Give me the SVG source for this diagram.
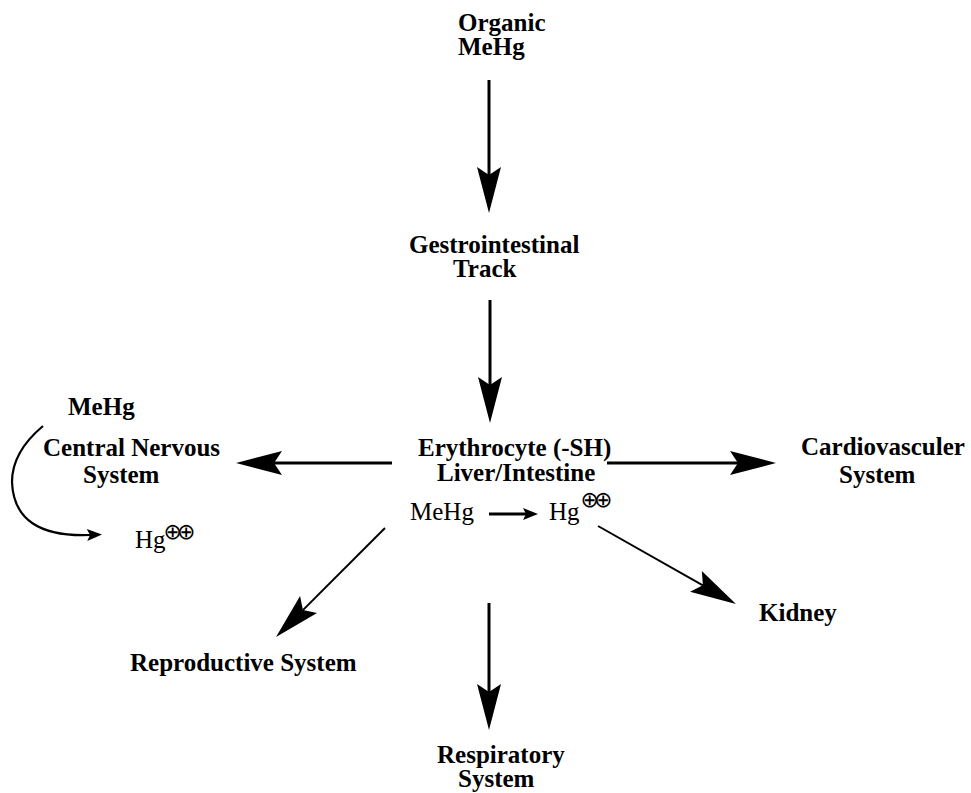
<svg xmlns="http://www.w3.org/2000/svg" width="971" height="793" viewBox="0 0 971 793">
<style>
text{font-family:"Liberation Serif","Times New Roman",serif;font-size:25px;fill:#000}
.b{font-weight:bold}
.sym{font-family:"DejaVu Sans",sans-serif;font-size:22px;letter-spacing:-5px}
.c{fill:none;stroke:#000}
</style>
<defs>
<marker id="big" markerUnits="userSpaceOnUse" markerWidth="50" markerHeight="30" viewBox="-1 -13 50 26" refX="8" refY="0" orient="auto">
<path d="M0,-12 L46,0 L0,12 L8,0 Z" fill="#000"/>
</marker>
<marker id="small" markerUnits="userSpaceOnUse" markerWidth="20" markerHeight="14" viewBox="-1 -7 20 14" refX="3" refY="0" orient="auto">
<path d="M0,-6 L15,0 L0,6 L3,0 Z" fill="#000"/>
</marker>
<marker id="curl" markerUnits="userSpaceOnUse" markerWidth="20" markerHeight="14" viewBox="-1 -7 20 14" refX="3" refY="0" orient="auto">
<path d="M0,-6 L15,0 L0,6 L3,0 Z" fill="#000"/>
</marker>
</defs>
<g id="connectors">
<line class="c" x1="489" y1="80" x2="489" y2="175" stroke-width="3" marker-end="url(#big)"/>
<line class="c" x1="490" y1="300" x2="490" y2="385" stroke-width="3" marker-end="url(#big)"/>
<line class="c" x1="392" y1="463" x2="274" y2="463" stroke-width="3" marker-end="url(#big)"/>
<line class="c" x1="607" y1="463" x2="738" y2="463" stroke-width="3" marker-end="url(#big)"/>
<line class="c" x1="385" y1="528" x2="302.9" y2="610.1" stroke-width="2" marker-end="url(#big)"/>
<line class="c" x1="598" y1="526" x2="702.9" y2="585.3" stroke-width="2" marker-end="url(#big)"/>
<line class="c" x1="489" y1="603" x2="489" y2="692" stroke-width="3" marker-end="url(#big)"/>
<line class="c" x1="489" y1="514" x2="526" y2="514" stroke-width="3" marker-end="url(#small)"/>
<path class="c" d="M43,426 Q12,452 12,482 Q14,538 90,535" stroke-width="2.2" marker-end="url(#curl)"/>
</g>
<g id="organic"><text class="b" x="458" y="31">Organic</text><text class="b" x="458" y="55">MeHg</text></g>
<g id="gi"><text class="b" x="409" y="253">Gestrointestinal</text><text class="b" x="453" y="277">Track</text></g>
<g id="erythrocyte"><text class="b" x="418" y="456">Erythrocyte (-SH)</text><text class="b" x="437" y="481">Liver/Intestine</text>
<text x="410" y="520">MeHg</text><text x="549" y="520">Hg<tspan class="sym" dx="1" dy="-13">⊕⊕</tspan></text></g>
<g id="cns"><text class="b" x="68" y="415">MeHg</text><text class="b" x="43" y="456">Central Nervous</text><text class="b" x="83" y="483">System</text>
<text x="135" y="548">Hg<tspan class="sym" dx="-2" dy="-9">⊕⊕</tspan></text></g>
<g id="cardio"><text class="b" x="801" y="455">Cardiovasculer</text><text class="b" x="839" y="483">System</text></g>
<g id="repro"><text class="b" x="130" y="671">Reproductive System</text></g>
<g id="kidney"><text class="b" x="759" y="621">Kidney</text></g>
<g id="resp"><text class="b" x="437" y="763">Respiratory</text><text class="b" x="458" y="787">System</text></g>
</svg>
